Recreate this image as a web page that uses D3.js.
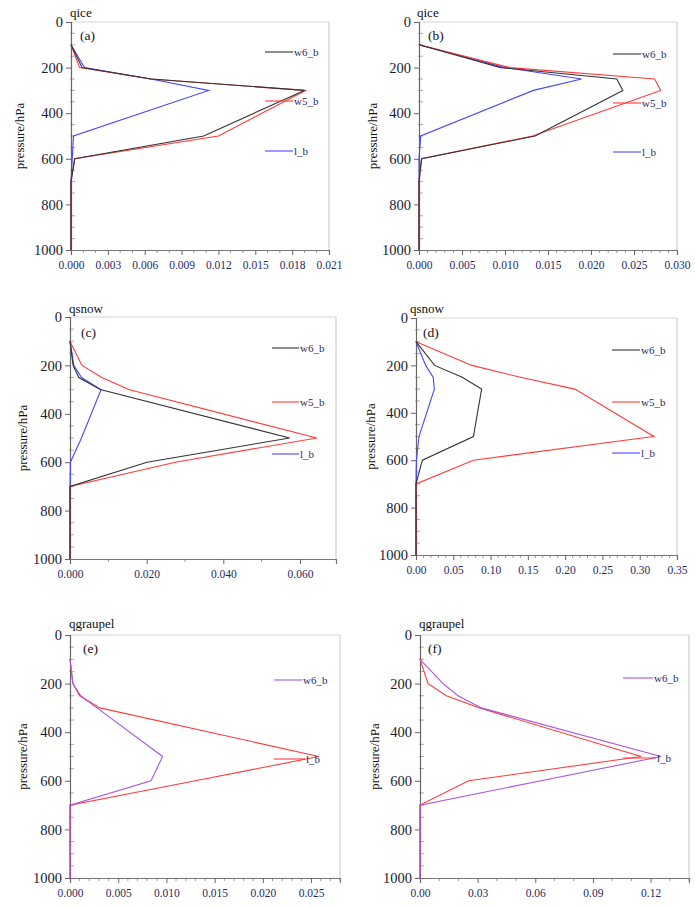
<!DOCTYPE html>
<html>
<head>
<meta charset="utf-8">
<script src="https://cdn.jsdelivr.net/npm/d3@7/dist/d3.min.js"></script>
<style>
  html, body { margin: 0; padding: 0; background: #fff; }
  svg { display: block; }
  svg text { font-family: "Liberation Serif", "Times New Roman", Times, "DejaVu Serif", serif; }
</style>
</head>
<body>
<svg id="chart" width="695" height="907"></svg>
<script>
// ---------------- DATA ----------------
const levels = [100, 200, 250, 300, 500, 600, 700, 850, 1000];
const pressureTicks = [0, 200, 400, 600, 800, 1000];

// (a) qice
const a_w6 = [0, 0.0009, 0.0065, 0.0190, 0.0108, 0.0003, 0, 0, 0];
const a_w5 = [0, 0.0007, 0.0065, 0.0191, 0.0120, 0.0003, 0, 0, 0];
const a_l  = [0, 0.0011, 0.0065, 0.0112, 0.0002, 0.0001, 0, 0, 0];
const a_xticks = [0, 0.003, 0.006, 0.009, 0.012, 0.015, 0.018, 0.021];

// (b) qice
const b_w6 = [0, 0.0095, 0.0230, 0.0237, 0.0135, 0.0003, 0, 0, 0];
const b_w5 = [0, 0.0106, 0.0274, 0.0281, 0.0132, 0.0003, 0, 0, 0];
const b_l  = [0, 0.0100, 0.0189, 0.0133, 0.0002, 0, 0, 0, 0];
const b_xticks = [0, 0.005, 0.010, 0.015, 0.020, 0.025, 0.030];

// (c) qsnow
const c_w6 = [0, 0.0008, 0.0023, 0.0079, 0.0573, 0.0201, 0, 0, 0];
const c_w5 = [0, 0.0031, 0.0083, 0.0153, 0.0644, 0.0275, 0, 0, 0];
const c_l  = [0, 0.0010, 0.0030, 0.0081, 0.0030, 0.0001, 0, 0, 0];
const c_xticks = [0, 0.020, 0.040, 0.060];

// (d) qsnow
const d_w6 = [0, 0.025, 0.062, 0.088, 0.077, 0.0085, 0, 0, 0];
const d_w5 = [0, 0.075, 0.140, 0.213, 0.319, 0.077, 0, 0, 0];
const d_l  = [0, 0.013, 0.023, 0.0246, 0.004, 0.0005, 0, 0, 0];
const d_xticks = [0, 0.05, 0.10, 0.15, 0.20, 0.25, 0.30, 0.35];

// (e) qgraupel
const e_w6 = [0, 0.0003, 0.0011, 0.0028, 0.0096, 0.0084, 0, 0, 0];
const e_l  = [0, 0.0003, 0.0010, 0.0031, 0.0258, 0.0130, 0, 0, 0];
const e_xticks = [0, 0.005, 0.010, 0.015, 0.020, 0.025];

// (f) qgraupel
const f_w6 = [0, 0.012, 0.0198, 0.0319, 0.1255, 0.063, 0, 0, 0];
const f_l  = [0, 0.0042, 0.0137, 0.031, 0.1151, 0.0253, 0, 0, 0];
const f_xticks = [0, 0.03, 0.06, 0.09, 0.12];

// ---------------- STYLE / LAYOUT ----------------
const COL = { black: "#333333", red: "#ff3b3b", blue: "#4646ff", purple: "#a855e0" };
const NAVY = "#1f2a66";

const panels = [
  { title: "qice", tag: "(a)", x0: 71, x1: 329, y0: 22, y1: 250, xmax: 0.021, xticks: a_xticks, fmt: ".3f", minor: 0.001,
    series: [ {name: "l_b", v: a_l, c: COL.blue}, {name: "w5_b", v: a_w5, c: COL.red}, {name: "w6_b", v: a_w6, c: COL.black} ],
    legend: [ {name: "w6_b", c: COL.black, x: 265, x2: 293, y: 52}, {name: "w5_b", c: COL.red, x: 265, x2: 293, y: 101}, {name: "l_b", c: COL.blue, x: 265, x2: 293, y: 151} ],
    tx: 70, ty: 17, lx: 21, tagx: 80, tagy: 40 },
  { title: "qice", tag: "(b)", x0: 419, x1: 677, y0: 22, y1: 250, xmax: 0.030, xticks: b_xticks, fmt: ".3f", minor: 0.001,
    series: [ {name: "l_b", v: b_l, c: COL.blue}, {name: "w5_b", v: b_w5, c: COL.red}, {name: "w6_b", v: b_w6, c: COL.black} ],
    legend: [ {name: "w6_b", c: COL.black, x: 613, x2: 641, y: 54}, {name: "w5_b", c: COL.red, x: 613, x2: 641, y: 103}, {name: "l_b", c: COL.blue, x: 613, x2: 641, y: 152} ],
    tx: 417, ty: 17, lx: 374, tagx: 428, tagy: 40 },
  { title: "qsnow", tag: "(c)", x0: 70, x1: 336, y0: 317, y1: 559, xmax: 0.0694, xticks: c_xticks, fmt: ".3f", minor: 0.01,
    series: [ {name: "l_b", v: c_l, c: COL.blue}, {name: "w5_b", v: c_w5, c: COL.red}, {name: "w6_b", v: c_w6, c: COL.black} ],
    legend: [ {name: "w6_b", c: COL.black, x: 272, x2: 299, y: 348}, {name: "w5_b", c: COL.red, x: 272, x2: 299, y: 402}, {name: "l_b", c: COL.blue, x: 272, x2: 299, y: 454} ],
    tx: 69, ty: 313, lx: 24, tagx: 81, tagy: 337 },
  { title: "qsnow", tag: "(d)", x0: 416, x1: 677, y0: 318, y1: 555, xmax: 0.35, xticks: d_xticks, fmt: ".2f", minor: 0.01,
    series: [ {name: "l_b", v: d_l, c: COL.blue}, {name: "w5_b", v: d_w5, c: COL.red}, {name: "w6_b", v: d_w6, c: COL.black} ],
    legend: [ {name: "w6_b", c: COL.black, x: 612, x2: 640, y: 350}, {name: "w5_b", c: COL.red, x: 612, x2: 640, y: 402}, {name: "l_b", c: COL.blue, x: 612, x2: 640, y: 453} ],
    tx: 410, ty: 313, lx: 372, tagx: 423, tagy: 337 },
  { title: "qgraupel", tag: "(e)", x0: 70, x1: 340, y0: 635, y1: 878, xmax: 0.028, xticks: e_xticks, fmt: ".3f", minor: 0.001,
    series: [ {name: "l_b", v: e_l, c: COL.red}, {name: "w6_b", v: e_w6, c: COL.purple} ],
    legend: [ {name: "w6_b", c: COL.purple, x: 274, x2: 302, y: 680}, {name: "l_b", c: COL.red, x: 274, x2: 305, y: 759} ],
    tx: 69, ty: 628, lx: 24, tagx: 83, tagy: 653 },
  { title: "qgraupel", tag: "(f)", x0: 420, x1: 689, y0: 635, y1: 878, xmax: 0.14, xticks: f_xticks, fmt: ".2f", minor: 0.01,
    series: [ {name: "l_b", v: f_l, c: COL.red}, {name: "w6_b", v: f_w6, c: COL.purple} ],
    legend: [ {name: "w6_b", c: COL.purple, x: 623, x2: 653, y: 678}, {name: "l_b", c: COL.red, x: 623, x2: 656, y: 758} ],
    tx: 419, ty: 628, lx: 376, tagx: 428, tagy: 653 }
];

const svg = d3.select("#chart");

panels.forEach(p => {
  const g = svg.append("g");
  const x = d3.scaleLinear().domain([0, p.xmax]).range([p.x0, p.x1]);
  const y = d3.scaleLinear().domain([0, 1000]).range([p.y0, p.y1]);

  // frame (top & right light)
  g.append("line").attr("x1", p.x0).attr("x2", p.x1).attr("y1", p.y0).attr("y2", p.y0)
    .attr("stroke", "#d4d4d4").attr("stroke-width", 1);
  g.append("line").attr("x1", p.x1).attr("x2", p.x1).attr("y1", p.y0).attr("y2", p.y1)
    .attr("stroke", "#cfcfcf").attr("stroke-width", 1.2);

  // y axis minor ticks
  const yMinor = d3.range(50, 1000, 50).filter(v => v % 200 !== 0);
  g.selectAll(null).data(yMinor).enter().append("line")
    .attr("x1", p.x0 - 1).attr("x2", p.x0 + 4)
    .attr("y1", d => y(d)).attr("y2", d => y(d))
    .attr("stroke", "#aaa").attr("stroke-width", 1);

  // y axis via d3
  const yAxis = d3.axisLeft(y).tickValues(pressureTicks).tickSize(5).tickPadding(3).tickFormat(d3.format("d"));
  const ya = g.append("g").attr("transform", `translate(${p.x0},0)`).call(yAxis);
  ya.attr("font-family", null);
  ya.select(".domain").attr("stroke", "#666").attr("stroke-width", 1.2);
  ya.selectAll(".tick line").attr("stroke", "#666");
  ya.selectAll(".tick text").attr("font-size", 14.5).attr("fill", "#1a1a33");

  // x axis minor ticks
  const nMinor = Math.round(p.xmax / p.minor);
  const xMinor = d3.range(1, nMinor + 1).map(i => i * p.minor)
    .filter(v => !p.xticks.some(t => Math.abs(t - v) < p.minor / 10) && v <= p.xmax + 1e-9);
  g.selectAll(null).data(xMinor).enter().append("line")
    .attr("x1", d => x(d)).attr("x2", d => x(d))
    .attr("y1", p.y1).attr("y2", p.y1 + 3)
    .attr("stroke", "#999").attr("stroke-width", 1);

  const xAxis = d3.axisBottom(x).tickValues(p.xticks).tickSize(5).tickPadding(6).tickFormat(d3.format(p.fmt));
  const xa = g.append("g").attr("transform", `translate(0,${p.y1})`).call(xAxis);
  xa.attr("font-family", null);
  xa.select(".domain").attr("stroke", "#777").attr("stroke-width", 1.2);
  xa.selectAll(".tick line").attr("stroke", "#666");
  xa.selectAll(".tick text").attr("font-size", 11.5).attr("fill", NAVY);

  // y label
  g.append("text")
    .attr("transform", `translate(${p.lx},${(p.y0 + p.y1) / 2}) rotate(-90)`)
    .attr("text-anchor", "middle").attr("dominant-baseline", "middle")
    .attr("font-size", 13).attr("fill", "#111")
    .text("pressure/hPa");

  // title
  g.append("text").attr("x", p.tx).attr("y", p.ty)
    .attr("font-size", 13).attr("fill", "#111").text(p.title);

  // panel tag
  g.append("text").attr("x", p.tagx).attr("y", p.tagy)
    .attr("font-size", 13.5).attr("fill", "#111").text(p.tag);

  // series lines
  const line = d3.line().x(d => x(d.v)).y(d => y(d.p));
  p.series.forEach(s => {
    const pts = levels.map((lv, i) => ({ p: lv, v: s.v[i] }));
    g.append("path").datum(pts).attr("d", line)
      .attr("fill", "none").attr("stroke", s.c).attr("stroke-width", 1.1)
      .attr("stroke-linejoin", "miter");
  });

  // legend
  p.legend.forEach(l => {
    g.append("line").attr("x1", l.x).attr("x2", l.x2).attr("y1", l.y).attr("y2", l.y)
      .attr("stroke", l.c).attr("stroke-width", 1.1);
    g.append("text").attr("x", l.x2 + 1).attr("y", l.y + 4)
      .attr("font-size", 11).attr("fill", NAVY).text(l.name);
  });
});
</script>
</body>
</html>
